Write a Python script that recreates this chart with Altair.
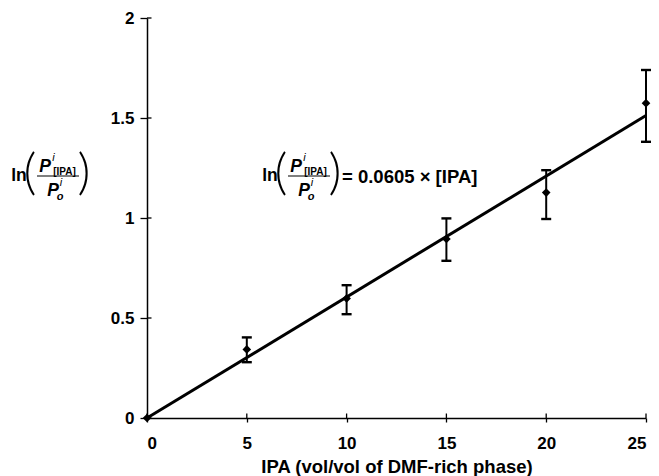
import altair as alt
import pandas as pd

# ---- data ----
ipa = [0, 5, 10, 15, 20, 25]
ln_ratio = [0.0, 0.343, 0.598, 0.895, 1.127, 1.574]
err_low = [None, 0.279, 0.519, 0.786, 0.995, 1.381]
err_high = [None, 0.403, 0.664, 0.998, 1.239, 1.740]
slope = 0.0605
fit_x = [0, 25]
x_ticks = [0, 5, 10, 15, 20, 25]
y_ticks = [0, 0.5, 1, 1.5, 2]
x_title = "IPA (vol/vol of DMF-rich phase)"
eq_rhs = "= 0.0605 × [IPA]"

FONT = "Liberation Sans"
W, H = 499, 400
OX, OY = 147, 18  # page position of plot origin

pts = pd.DataFrame({"ipa": ipa, "lnr": ln_ratio, "lo": err_low, "hi": err_high})
errs = pts.dropna()
fit = pd.DataFrame({"ipa": fit_x, "lnr": [slope * v for v in fit_x]})

xs = alt.Scale(domain=[0, 25], nice=False)
ys = alt.Scale(domain=[0, 2], nice=False)

base_x = alt.X("ipa:Q", scale=xs, axis=alt.Axis(
    values=x_ticks, title=x_title, grid=False, tickSize=4, tickWidth=1.3,
    domainWidth=1.5, domainColor="black", tickColor="black", labelExpr="datum.value",
    labelFont=FONT, labelFontSize=17, labelFontWeight="bold", labelColor="black",
    labelPadding=13, titleFont=FONT, titleFontSize=18.5, titleFontWeight="bold",
    titleColor="black", titlePadding=6))
base_y = alt.Y("lnr:Q", scale=ys, axis=alt.Axis(
    values=y_ticks, title=None, grid=False, tickSize=7, tickWidth=1.3,
    domainWidth=1.5, domainColor="black", tickColor="black", labelExpr="datum.value",
    labelFont=FONT, labelFontSize=17, labelFontWeight="bold", labelColor="black",
    labelPadding=6))

line = alt.Chart(fit).mark_line(color="black", strokeWidth=3).encode(x=base_x, y=base_y)

bars = alt.Chart(errs).mark_rule(color="black", strokeWidth=2).encode(
    x=alt.X("ipa:Q", scale=xs), y=alt.Y("lo:Q", scale=ys), y2="hi:Q")
cap_lo = alt.Chart(errs).mark_tick(color="black", orient="horizontal", size=10, thickness=2.4, opacity=1).encode(
    x=alt.X("ipa:Q", scale=xs), y=alt.Y("lo:Q", scale=ys))
cap_hi = alt.Chart(errs).mark_tick(color="black", orient="horizontal", size=10, thickness=2.4, opacity=1).encode(
    x=alt.X("ipa:Q", scale=xs), y=alt.Y("hi:Q", scale=ys))
points = alt.Chart(pts).mark_point(shape="diamond", filled=True, color="black", size=75, opacity=1).encode(
    x=alt.X("ipa:Q", scale=xs), y=alt.Y("lnr:Q", scale=ys))

# inward halves of the crossing ticks
xt = pd.DataFrame({"ipa": x_ticks})
yt = pd.DataFrame({"lnr": y_ticks})
xin = alt.Chart(xt).mark_rule(color="black", strokeWidth=1.3).encode(
    x=alt.X("ipa:Q", scale=xs), y=alt.value(H), y2=alt.value(H - 4.5))
yin = alt.Chart(yt).mark_rule(color="black", strokeWidth=1.3).encode(
    y=alt.Y("lnr:Q", scale=ys), x=alt.value(0), x2=alt.value(4.5))


def txt(s, px, py, size, weight="bold", style="normal", align="center", font=FONT):
    d = pd.DataFrame({"t": [s]})
    return alt.Chart(d).mark_text(
        font=font, fontSize=size, fontWeight=weight, fontStyle=style,
        align=align, baseline="middle", color="black").encode(
        text="t:N", x=alt.value(px - OX), y=alt.value(py - OY))


def formula(dx, with_rhs):
    layers = [
        txt("ln", 270 + dx, 176, 17.5),
        txt("(", 281 + dx, 174, 50, weight=300, font="Lato"),
        txt("P", 296 + dx, 167, 17.5, style="italic"),
        txt("i", 304.5 + dx, 158, 11, weight="normal", style="italic"),
        txt("[IPA]", 315.5 + dx, 172, 10),
        txt("P", 304 + dx, 191, 17.5, style="italic"),
        txt("i", 312 + dx, 183, 11, weight="normal", style="italic"),
        txt("o", 311 + dx, 197, 11, style="italic"),
        txt(")", 335 + dx, 174, 50, weight=300, font="Lato"),
        alt.Chart(pd.DataFrame({"t": [0]})).mark_rule(color="black", strokeWidth=1.2).encode(
            x=alt.value(288 + dx - OX), x2=alt.value(330 + dx - OX), y=alt.value(176 - OY)),
    ]
    if with_rhs:
        layers.append(txt(eq_rhs, 342 + dx, 177, 18.5, align="left"))
    return layers


chart = alt.layer(
    line, bars, cap_lo, cap_hi, points, xin, yin,
    *formula(0, True), *formula(-251, False)
).properties(
    width=W, height=H,
    autosize=alt.AutoSizeParams(type="none"),
    padding={"left": 139, "top": 10, "right": 5, "bottom": 58},
).configure_view(strokeWidth=0)

chart.save("out.html", embed_options={"renderer": "svg", "actions": False})
